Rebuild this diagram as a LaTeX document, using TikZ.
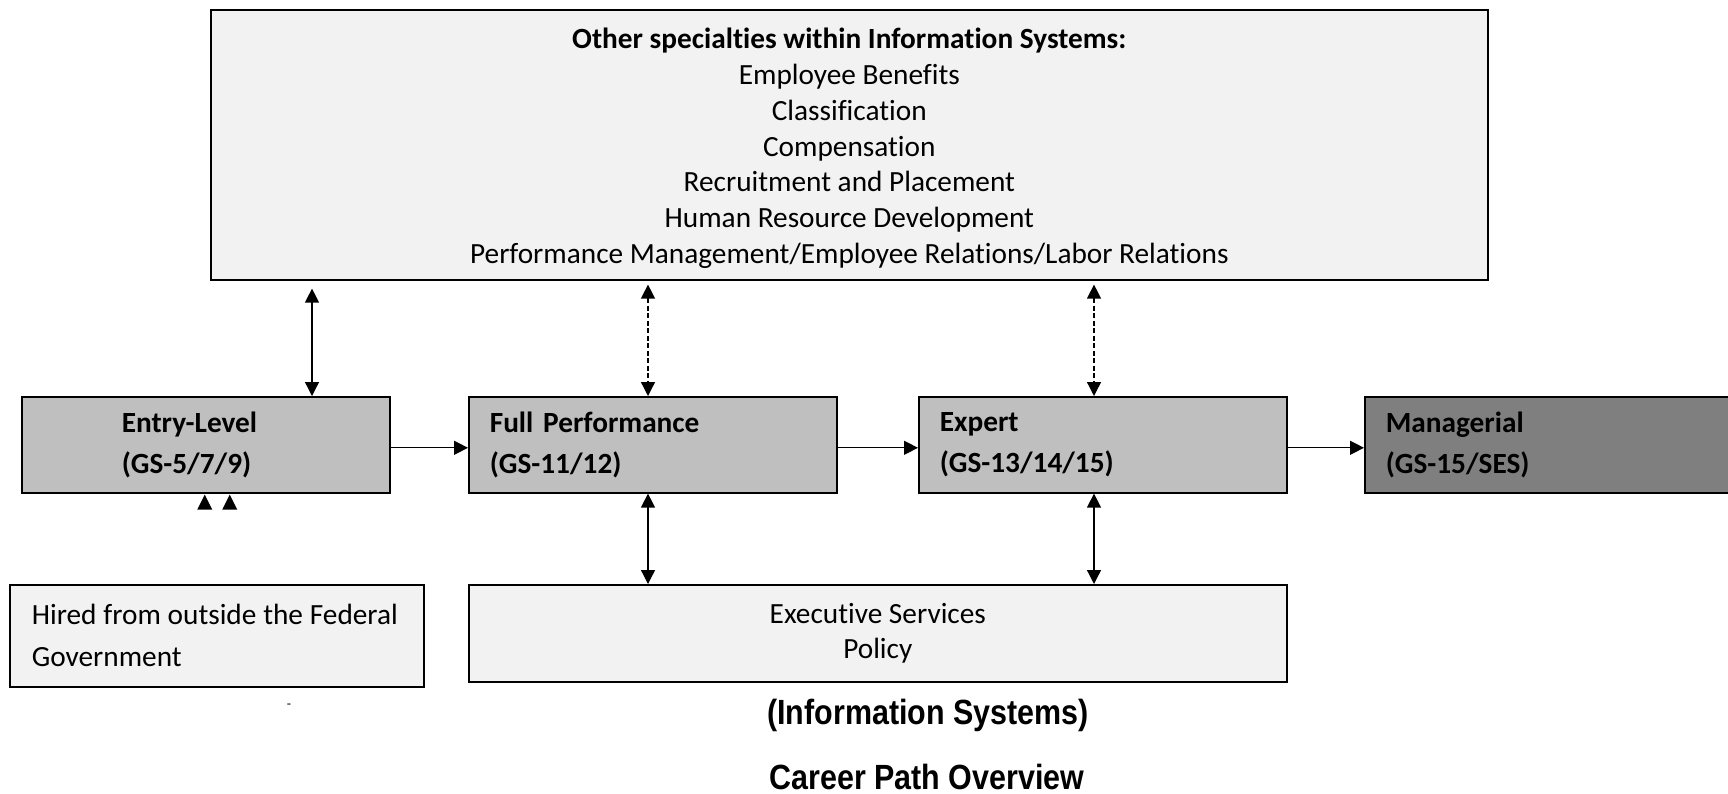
\documentclass[tikz,border=0pt]{standalone}
\usepackage{fontspec}
\setmainfont{Carlito}[Ligatures=NoCommon]
\newfontfamily\titlefont{Liberation Sans}[FakeStretch=0.87]
\usetikzlibrary{arrows.meta,calc}
\definecolor{lightfill}{HTML}{F2F2F2}
\definecolor{midfill}{HTML}{BFBFBF}
\definecolor{darkfill}{HTML}{7F7F7F}
\begin{document}
\begin{tikzpicture}[x=1pt,y=-1pt,
  box/.style={draw=black, line width=1.6pt, rectangle, inner sep=0pt, anchor=north west},
  topsz/.style={font=\fontsize{29.3}{35.7}\selectfont},
  lvlsz/.style={font=\fontsize{29.3}{41.5}\selectfont\bfseries},
  conn/.style={line width=1.3pt, -{Triangle[length=14pt,width=14pt]}},
  dbl/.style={line width=1.3pt, {Triangle[length=14pt,width=14pt]}-{Triangle[length=14pt,width=14pt]}},
  dashedconn/.style={dbl, dash pattern=on 5pt off 2.5pt},
  titletext/.style={font=\titlefont\bfseries\fontsize{35}{40}\selectfont, inner sep=0pt, anchor=base}
]
\useasboundingbox (0,0) rectangle (1728,793);

% top box
\node[box, fill=lightfill, minimum width=1277, minimum height=270] (top) at (210,9) {};
\node[align=center, topsz, inner sep=0pt] (toptext) at ($(top.center)+(0,3.5)$)
  {\textbf{Other specialties within Information Systems:}\\Employee Benefits\\Classification\\Compensation\\Recruitment and Placement\\Human Resource Development\\Performance Management/Employee Relations/Labor Relations};

% level boxes
\node[box, fill=midfill, minimum width=368, minimum height=96, text width=168, align=left, lvlsz] (entry) at (21,396)
  {Entry-Level\\(GS-5/7/9)};
\node[box, fill=midfill, minimum width=368, minimum height=96, text width=326, align=left, lvlsz] (full) at (468,396)
  {Full Performance\\(GS-11/12)};
\node[box, fill=midfill, minimum width=368, minimum height=96, text width=326, align=left, lvlsz] (expert) at (918,396)
  {Expert\\(GS-13/14/15)};
\node[box, fill=darkfill, minimum width=420, minimum height=96, text width=378, align=left, lvlsz] (manager) at (1364,396)
  {Managerial\\(GS-15/SES)};

% bottom boxes
\node[box, fill=lightfill, minimum width=414, minimum height=102, text width=370, align=left,
  font=\fontsize{29.3}{42}\selectfont] (hired) at (9,584)
  {\mbox{\spaceskip=6.8pt\relax Hired from outside the Federal}\\Government};
\node[box, fill=lightfill, minimum width=818, minimum height=97, align=center, topsz] (exec) at (468,584)
  {Executive Services\\Policy};

% small mark
\node[font=\fontsize{14}{16}\selectfont] (dash) at (289,706) {-};

% titles
\node[titletext] (t1) at (928,724) {(Information Systems)};
\node[titletext] (t2) at (927,789) {Career Path Overview};

% connectors
\coordinate (a1) at ($(entry.north west)+(291,0)$);
\coordinate (a2) at ($(full.north west)+(180,0)$);
\coordinate (a3) at ($(expert.north west)+(176,0)$);
\draw[dbl] ($(a1 |- top.south)+(0,8)$) -- (a1);
\draw[dashedconn] ($(a2 |- top.south)+(0,4)$) -- (a2);
\draw[dashedconn] ($(a3 |- top.south)+(0,4)$) -- (a3);

\draw[conn] ([yshift=-3pt]entry.east) -- ([yshift=-3pt]full.west);
\draw[conn] ([yshift=-3pt]full.east) -- ([yshift=-3pt]expert.west);
\draw[conn] ([yshift=-3pt]expert.east) -- ([yshift=-3pt]manager.west);

\draw[dbl] (a2 |- full.south) -- (a2 |- exec.north);
\draw[dbl] (a3 |- expert.south) -- (a3 |- exec.north);

% small arrowheads below entry level
\foreach \dx in {-1,24} {
  \fill ($(entry.south)+(\dx-7.5,16)$) -- ($(entry.south)+(\dx,1)$) -- ($(entry.south)+(\dx+7.5,16)$) -- cycle;
}
\end{tikzpicture}
\end{document}
